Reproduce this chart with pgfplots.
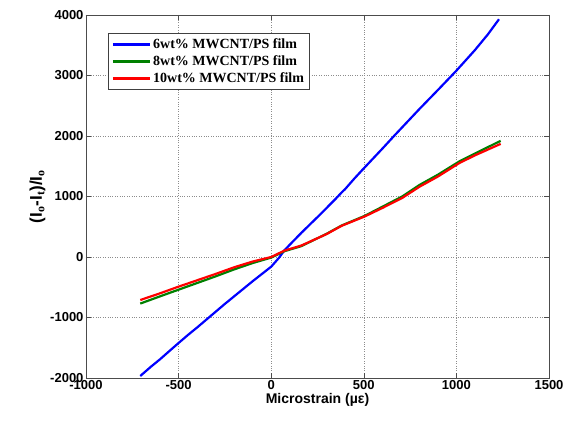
\documentclass[border=0pt]{standalone}
\usepackage{pgfplots}
\pgfplotsset{compat=1.18}
\usepackage{fontspec}
\setmainfont{Liberation Serif}
\setsansfont{Liberation Sans}
\definecolor{mgreen}{rgb}{0,0.5,0}
\begin{document}
\begin{tikzpicture}
\begin{axis}[
  scale only axis, width=463pt, height=363pt,
  xmin=-1000, xmax=1500, ymin=-2000, ymax=4000,
  xtick={-1000,-500,0,500,1000,1500},
  ytick={-2000,-1000,0,1000,2000,3000,4000},
  tick align=inside, major tick length=5pt,
  tick style={black!70, line width=0.5pt},
  axis line style={black!70, line width=0.8pt},
  grid=major, major grid style={black!45, dotted, line width=0.6pt},
  /pgf/number format/assume math mode=true,
  /pgf/number format/.cd, 1000 sep={}, /pgfplots/.cd,
  ticklabel style={font=\sffamily\bfseries\fontsize{13}{15}\selectfont},
  xticklabel style={yshift=1pt},
  yticklabel style={xshift=1pt},
  xlabel={\sffamily\bfseries\fontsize{14}{16}\selectfont Microstrain (µε)},
  ylabel={\sffamily\bfseries\fontsize{17}{19}\selectfont (I$_{\mathbf{o}}$-I$_{\mathbf{t}}$)/I$_{\mathbf{o}}$},
  xlabel style={yshift=3pt},
  ylabel style={yshift=-2pt},
  legend style={at={(rel axis cs:0.047,0.95)}, anchor=north west,
    font=\bfseries\fontsize{14}{16}\selectfont, draw=black!75, line width=0.8pt,
    row sep=1.5pt, inner sep=3.5pt},
  legend cell align=left,
  legend image code/.code={\draw[#1, line width=2.5pt] (0cm,0cm) -- (1.3cm,0cm);},
]
\addplot[blue, line width=2.2pt] coordinates {
(-707,-1967) (-650,-1815) (-600,-1690) (-550,-1555) (-500,-1421) (-450,-1290) (-400,-1165) (-350,-1035) (-300,-905) (-250,-775) (-200,-650) (-150,-525) (-100,-400) (-50,-280) (0,-160) (43,-10) (71,110) (120,265) (163,400) (250,660) (342,942) (380,1065) (400,1125) (420,1195) (450,1300) (500,1465) (600,1790) (668,2016) (700,2120) (800,2445) (900,2760) (962,2958) (1000,3080) (1100,3420) (1170,3680) (1230,3930)
};
\addlegendentry{6wt\% MWCNT/PS film}
\addplot[mgreen, line width=2.2pt] coordinates {
(-707,-770) (-600,-650) (-500,-540) (-400,-430) (-300,-320) (-200,-205) (-100,-100) (0,-10) (71,95) (163,180) (300,385) (380,520) (505,680) (600,830) (707,1000) (800,1190) (900,1360) (1016,1580) (1100,1710) (1239,1920)
};
\addlegendentry{8wt\% MWCNT/PS film}
\addplot[red, line width=2.2pt] coordinates {
(-707,-711) (-600,-600) (-500,-490) (-400,-385) (-300,-280) (-200,-170) (-100,-75) (0,0) (71,105) (163,190) (300,380) (380,515) (505,670) (600,810) (707,975) (800,1160) (900,1330) (1016,1553) (1100,1680) (1239,1870)
};
\addlegendentry{10wt\% MWCNT/PS film}
\end{axis}
\pgfresetboundingbox
\path (current axis.south west) ++(-86pt,-44pt) coordinate (bl);
\path (current axis.north east) ++(15pt,15pt) coordinate (tr);
\useasboundingbox (bl) rectangle (tr);
\end{tikzpicture}
\end{document}
